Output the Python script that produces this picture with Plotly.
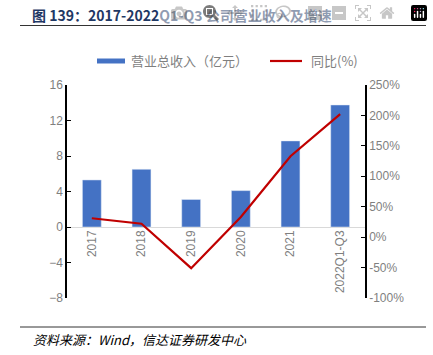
import plotly.graph_objects as go

categories = ["2017", "2018", "2019", "2020", "2021", "2022Q1-Q3"]
revenue = [5.3, 6.5, 3.1, 4.1, 9.7, 13.75]
growth = [31, 22, -51, 33, 133, 202]

left_ticks = [-8, -4, 0, 4, 8, 12, 16]
right_ticks = [-100, -50, 0, 50, 100, 150, 200, 250]
right_labels = [f"{v}%" for v in right_ticks]

title_text = "图 139：2017-2022Q1-Q3 公司营业收入及增速"
source_text = "资料来源：Wind，信达证券研发中心"
bar_name = "营业总收入（亿元）"
line_name = "同比(%)"

BLUE = "#4472C4"
RED = "#C00000"
GRAY = "#7F7F7F"
CJK = "Noto Sans CJK SC"
NUM = "Liberation Sans"

# the page body margin is removed by post_script, so the figure fills the window
W, H = 433, 355
ml, mr, mt, mb = 67, 68, 85, 57
ph = H - mt - mb
pw = W - ml - mr

def py(pix):
    return (H - mb - pix) / ph

def px(pix):
    return (pix - ml) / pw

fig = go.Figure()
fig.add_trace(go.Bar(x=categories, y=revenue, marker_color=BLUE, name=bar_name,
                     yaxis="y", showlegend=False))
fig.add_trace(go.Scatter(x=categories, y=growth, mode="lines", line=dict(color=RED, width=2.2),
                         name=line_name, yaxis="y2", showlegend=False))

fig.update_layout(
    width=W, height=H,
    margin=dict(l=ml, r=mr, t=mt, b=mb, autoexpand=False),
    paper_bgcolor="white", plot_bgcolor="white",
    bargap=0.62,
    xaxis=dict(type="category", anchor="free", position=8 / 24, showline=False,
               showgrid=False, ticks="", tickangle=-90,
               tickfont=dict(family=NUM, size=12, color=GRAY)),
    yaxis=dict(range=[-8, 16], tickvals=left_ticks, showgrid=False,
               showline=True, linecolor="black", linewidth=1.5,
               ticks="inside", ticklen=4, tickcolor="black",
               zeroline=True, zerolinecolor="#D9D9D9", zerolinewidth=1,
               tickfont=dict(family=NUM, size=12, color=GRAY)),
    yaxis2=dict(range=[-100, 250], tickvals=right_ticks, ticktext=right_labels,
                overlaying="y", side="right", showgrid=False, zeroline=False,
                showline=True, linecolor="black", linewidth=1.5,
                ticks="inside", ticklen=4, tickcolor="black",
                tickfont=dict(family=NUM, size=12, color=GRAY)),
    showlegend=False,
)

shapes = []
annotations = []
annotations.append(dict(text=title_text, xref="paper", yref="paper",
                        x=px(30), y=py(15), xanchor="left", yanchor="middle", align="left",
                        showarrow=False,
                        font=dict(family=CJK, size=14, color="#1F3864", weight="bold")))
shapes.append(dict(type="line", xref="paper", yref="paper", x0=px(20), x1=px(426),
                   y0=py(25.5), y1=py(25.5), line=dict(color="#333333", width=1)))
shapes.append(dict(type="line", xref="paper", yref="paper", x0=px(20), x1=px(426),
                   y0=py(327), y1=py(327), line=dict(color="#333333", width=1)))
annotations.append(dict(text=source_text, xref="paper", yref="paper",
                        x=px(31), y=py(339), xanchor="left", yanchor="middle", align="left",
                        showarrow=False,
                        font=dict(family=CJK, size=13, color="#000000", style="italic")))
# legend
shapes.append(dict(type="rect", xref="paper", yref="paper", x0=px(97), x1=px(125),
                   y0=py(63.5), y1=py(58.5), fillcolor=BLUE, line=dict(width=0)))
annotations.append(dict(text=bar_name, xref="paper", yref="paper", x=px(129), y=py(61),
                        xanchor="left", yanchor="middle", showarrow=False,
                        font=dict(family=CJK, size=13, color=GRAY)))
shapes.append(dict(type="line", xref="paper", yref="paper", x0=px(270), x1=px(302),
                   y0=py(61), y1=py(61), line=dict(color=RED, width=2.2)))
annotations.append(dict(text=line_name, xref="paper", yref="paper", x=px(309), y=py(61),
                        xanchor="left", yanchor="middle", showarrow=False,
                        font=dict(family=CJK, size=13, color=GRAY)))

fig.update_layout(shapes=shapes, annotations=annotations)
fig.write_html("out.html", post_script="document.body.style.margin='0';")
